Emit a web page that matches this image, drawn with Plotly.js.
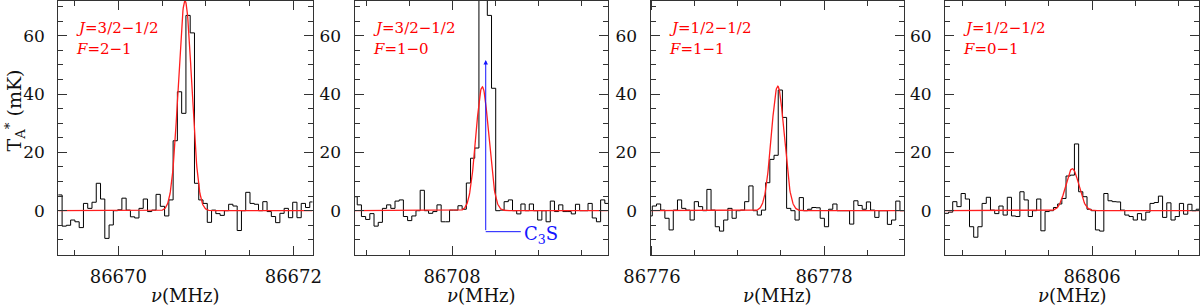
<!DOCTYPE html>
<html>
<head>
<meta charset="utf-8">
<script src="https://cdn.plot.ly/plotly-3.0.1.min.js"></script>
<style>html,body{margin:0;padding:0;background:#fff;}#chart{width:1200px;height:305px;}</style>
</head>
<body>
<div id="chart"></div>
<script>
// ---- data: channel spectra (mK), left edge of first channel (MHz), channel width (MHz)
const chanWidth = 0.0488;
const chanStart = [86669.3086, 86706.849, 86775.955, 86804.283];

const spec1 = [5.4, -5.3, -5.0, -3.2, -3.8, -5.8, 2.5, 0.8, 2.9, 9.4,
  4.0, -9.5, -4.9, 0.0, 0.3, 4.3, 0.2, -2.1, -2.5, 0.8,
  4.0, -0.3, 0.2, 5.6, 1.5, -1.8, 3.7, 24.0, 40.8, 33.4,
  67.0, 61.0, 9.4, 3.7, 2.5, -4.0, 0.2, -1.0, -1.6, 0.0,
  2.2, 1.6, -6.8, 0.0, 6.3, 2.5, 2.2, 0.0, 3.1, -0.3,
  -2.0, -4.1, -0.9, 0.8, -2.4, 2.9, -2.4, 2.5, 1.1, 3.0, 3.0];
const spec2 = [4.8, 2.0, -2.0, -3.0, -1.0, -5.3, -4.0, 0.8, 2.0, 0.8,
  3.3, 3.7, -2.0, -3.4, -1.8, 0.0, 7.0, 0.0, -0.9, -0.3,
  2.0, -3.8, -3.8, 0.2, 0.2, 1.7, 0.5, 9.5, 18.0, 21.5,
  95.0, 88.0, 67.0, 42.0, 0.0, 0.2, 3.1, 3.7, 0.0, -1.1,
  2.3, 0.0, 2.3, 0.0, -3.2, 0.0, -3.8, 3.3, -0.3, 2.0,
  -0.3, -0.3, -1.1, 2.2, 0.0, 0.0, 2.5, -2.5, -3.8, 3.7, 2.5, 2.5];
const spec3 = [-1.8, 1.6, 2.3, 0.2, -2.6, -6.6, 0.2, 3.7, 0.8, 0.2,
  -3.2, 3.1, 1.4, 0.0, 7.3, 0.2, -5.5, -7.0, -3.2, 0.8,
  -2.6, 0.0, 0.2, 3.1, 8.5, 0.0, -1.5, 0.2, 9.6, 17.6,
  19.0, 41.4, 32.0, 0.8, 0.0, -3.2, 4.5, 0.0, 0.5, 1.1,
  1.0, -2.6, -5.5, 0.5, 2.3, 0.0, 0.0, 0.0, -4.6, 3.4,
  1.8, 0.5, 3.0, 0.2, -2.3, 0.0, 0.0, -4.7, -3.2, 3.3, 0.0, 0.0];
const spec4 = [-0.9, -0.5, 3.1, 1.4, 5.9, 4.0, -5.5, -9.1, -5.5, 2.5,
  4.6, 0.2, -1.0, 1.6, -1.5, 4.6, -1.8, -2.0, 6.5, 3.7,
  -2.0, 0.0, 4.0, -6.9, -0.3, 0.0, 1.1, 2.3, 4.2, 11.9,
  12.2, 22.9, 6.5, 4.8, 0.5, 0.0, -6.6, -7.0, 5.9, 3.4,
  3.1, 3.0, 0.2, -1.5, -2.0, -3.2, -1.0, -3.2, -0.5, 2.5,
  2.8, 5.0, -2.3, 2.7, -3.2, -2.0, 2.5, -1.2, 2.2, 0.0, 0.5, 0.5];
const spectra = [spec1, spec2, spec3, spec4];

// Gaussian fit parameters (centre MHz, peak mK, FWHM MHz)
const fitCenter = [86670.762, 86708.352, 86777.462, 86805.771];
const fitPeak   = [72.0, 42.5, 42.7, 14.4];
const fitFWHM   = [0.18, 0.175, 0.175, 0.18];

// labels
const labelJ = ['<i>J</i>=3/2−1/2', '<i>J</i>=3/2−1/2', '<i>J</i>=1/2−1/2', '<i>J</i>=1/2−1/2'];
const labelF = ['<i>F</i>=2−1', '<i>F</i>=1−0', '<i>F</i>=1−1', '<i>F</i>=0−1'];
const xTitle = '<i>ν</i>(MHz)';
const yTitle = 'T<sub>A</sub><sup>*</sup> (mK)';
const c3sLabel = 'C<sub>3</sub>S';
const c3sFreq = 86708.392;
const c3sArrowTop = 51.7, c3sArrowBase = -7.2, c3sTextFreq = 86708.80;

// ---- layout geometry
const xRanges = [[86669.314, 86672.219], [86706.866, 86709.814], [86775.983, 86778.930], [86804.291, 86807.244]];
const pxDom = [[58.3, 312.5], [354.5, 608], [650.5, 904], [945, 1199]];
const yRange = [-15.2, 71.94];
const FONT = 'DejaVu Serif';
const AX = '#333';

const traces = [];
const layout = {
  width: 1200, height: 305,
  margin: {l: 0, r: 0, t: 1, b: 50},
  paper_bgcolor: '#fff', plot_bgcolor: '#fff',
  showlegend: false,
  font: {family: FONT, color: '#111', size: 17},
  annotations: [], shapes: []
};

for (let k = 0; k < 4; k++) {
  const s = k === 0 ? '' : String(k + 1);
  const vals = spectra[k];
  const edges = vals.map((v, i) => chanStart[k] + i * chanWidth);
  traces.push({x: edges, y: vals, type: 'scatter', mode: 'lines',
    line: {shape: 'hv', color: '#000', width: 1}, xaxis: 'x' + s, yaxis: 'y' + s, hoverinfo: 'skip'});
  const fx = [], fy = [];
  const sig = fitFWHM[k] / 2.3548;
  for (let x = xRanges[k][0]; x <= xRanges[k][1]; x += 0.004) {
    fx.push(x);
    fy.push(fitPeak[k] * Math.exp(-0.5 * Math.pow((x - fitCenter[k]) / sig, 2)));
  }
  traces.push({x: fx, y: fy, type: 'scatter', mode: 'lines',
    line: {color: 'rgb(255,30,30)', width: 1.3}, xaxis: 'x' + s, yaxis: 'y' + s, hoverinfo: 'skip'});

  layout['xaxis' + s] = {
    domain: [pxDom[k][0] / 1200, pxDom[k][1] / 1200], range: xRanges[k], anchor: 'y' + s,
    showline: true, linecolor: AX, linewidth: 1, mirror: 'ticks',
    ticks: 'inside', ticklen: 9, tickwidth: 1, tickcolor: AX,
    tick0: 0, dtick: 2, tickformat: 'd', showgrid: false, zeroline: false,
    tickfont: {family: FONT, size: 18, color: '#111'}, ticklabelstandoff: 5,
    minor: {tick0: 0, dtick: 0.5, ticks: 'inside', ticklen: 5, tickcolor: AX, showgrid: false}
  };
  layout['yaxis' + s] = {
    domain: [0, 1], range: yRange, anchor: 'x' + s,
    showline: true, linecolor: AX, linewidth: 1, mirror: 'ticks',
    ticks: 'inside', ticklen: 9, tickwidth: 1, tickcolor: AX,
    tick0: 0, dtick: 20, tickformat: 'd', showgrid: false, zeroline: false,
    tickfont: {family: FONT, size: 17, color: '#111'}, ticklabelstandoff: 9,
    minor: {tick0: 0, dtick: 5, ticks: 'inside', ticklen: 5, tickcolor: AX, showgrid: false}
  };
  const pw = pxDom[k][1] - pxDom[k][0];
  layout.annotations.push({xref: 'x' + s + ' domain', yref: 'y' + s + ' domain', x: 16 / pw, y: (255 - 28) / 254,
    xanchor: 'left', yanchor: 'middle', text: labelJ[k], showarrow: false,
    font: {family: FONT, size: 15, color: 'rgb(255,0,0)'}});
  layout.annotations.push({xref: 'x' + s + ' domain', yref: 'y' + s + ' domain', x: 16 / pw, y: (255 - 49) / 254,
    xanchor: 'left', yanchor: 'middle', text: labelF[k], showarrow: false,
    font: {family: FONT, size: 15, color: 'rgb(255,0,0)'}});
  // x-axis title
  layout.annotations.push({xref: 'x' + s + ' domain', yref: 'paper', x: 0.5, y: (255 - 295) / 254,
    xanchor: 'center', yanchor: 'middle', text: xTitle, showarrow: false,
    font: {family: FONT, size: 18, color: '#111'}});
}

// y-axis title
layout.annotations.push({xref: 'paper', yref: 'paper', x: 14.5 / 1200, y: (255 - 111) / 254,
  xanchor: 'center', yanchor: 'middle', textangle: -90, showarrow: false,
  text: yTitle, font: {family: FONT, size: 19, color: '#111'}});

// C3S marker in panel 2
const blue = 'rgb(20,20,255)';
layout.annotations.push({xref: 'x2', yref: 'y2', axref: 'x2', ayref: 'y2',
  x: c3sFreq, y: c3sArrowTop, ax: c3sFreq, ay: c3sArrowBase, text: '',
  showarrow: true, arrowhead: 2, arrowsize: 0.9, arrowwidth: 1, arrowcolor: blue, standoff: 0, startstandoff: 0});
layout.shapes.push({type: 'line', xref: 'x2', yref: 'y2', x0: c3sFreq, x1: c3sTextFreq,
  y0: c3sArrowBase, y1: c3sArrowBase, line: {color: blue, width: 1}});
layout.annotations.push({xref: 'x2', yref: 'y2', x: c3sTextFreq, y: c3sArrowBase, xanchor: 'left', yanchor: 'middle',
  text: c3sLabel, showarrow: false, xshift: 1, yshift: -3,
  font: {family: FONT, size: 18, color: blue}});

Plotly.newPlot('chart', traces, layout, {staticPlot: true, displayModeBar: false});
</script>
</body>
</html>
